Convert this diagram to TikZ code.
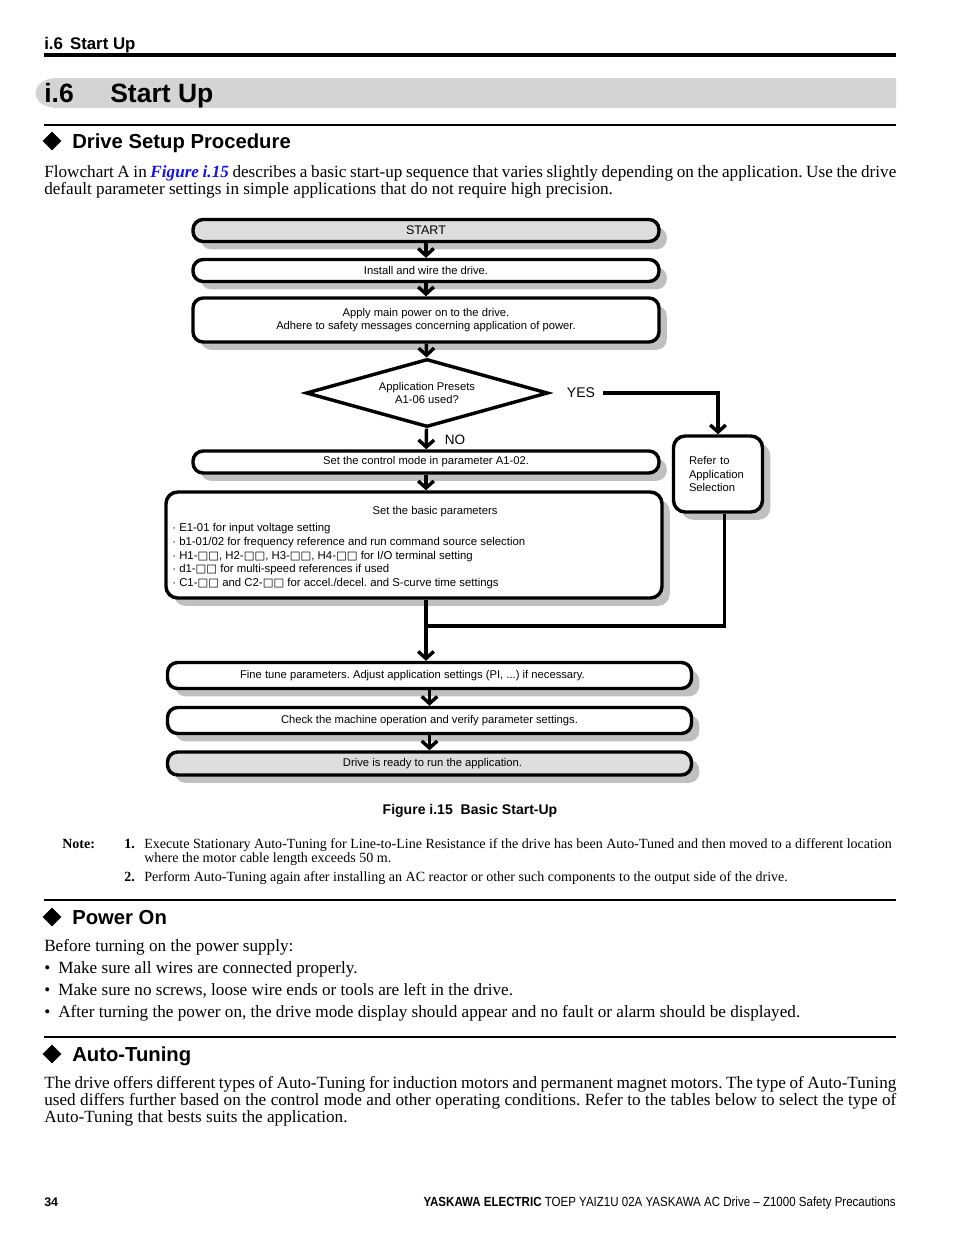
\documentclass[tikz,border=0pt]{standalone}
\usepackage{fontspec}
\setmainfont{Liberation Serif}
\setsansfont{Liberation Sans}
\newfontfamily\narrowsans{Liberation Sans}[FakeStretch=0.87]
\newfontfamily\symfont{DejaVu Sans}
\usetikzlibrary{shapes.geometric,arrows.meta,shadows,positioning}

\definecolor{bannergray}{RGB}{212,212,212}
\definecolor{boxgray}{RGB}{221,221,221}
\definecolor{shadowgray}{RGB}{192,192,192}
\definecolor{linkblue}{RGB}{20,20,235}

\newdimen\pxu
\pxu=0.6415pt
\newcommand{\sqbox}{{\symfont □}}

\tikzset{
  txt/.style={inner sep=0pt, anchor=base west},
  bodytext/.style={txt, font=\fontsize{11}{13}\selectfont},
  notetext/.style={txt, font=\fontsize{9}{11}\selectfont},
  headtext/.style={txt, font=\sffamily\bfseries\fontsize{13}{15}\selectfont},
  flowfont/.style={font=\sffamily\fontsize{7.2}{8.8}\selectfont},
  stepbox/.style={draw, line width=2.2pt, rounded corners=6.5pt, fill=white,
    flowfont, inner sep=0pt, minimum width=466*\pxu, minimum height=22*\pxu,
    drop shadow={shadow xshift=5pt, shadow yshift=-5pt, fill=shadowgray, opacity=1}},
  endbox/.style={stepbox, fill=boxgray},
  decision/.style={draw, shape=diamond, line width=2.2pt, fill=white, flowfont,
    aspect=3.5, inner sep=0pt, minimum width=242*\pxu, minimum height=68*\pxu, align=center},
  flowarrow/.style={line width=2.2pt, -{Straight Barb[length=4.5pt,width=10pt]}},
  flowline/.style={line width=2.2pt},
  bulletmark/.style={fill=black, shape=diamond, inner sep=0pt, minimum width=19*\pxu, minimum height=19*\pxu}
}

\begin{document}
\frenchspacing
\begin{tikzpicture}[x=0.6415pt, y=-0.6415pt]
  \useasboundingbox[fill=white] (0,0) rectangle (954,1235);

  % Page header
  \node[txt, font=\sffamily\bfseries\fontsize{10.8}{12}\selectfont] (pagehead) at (44,49) {i.6\hspace{4.5pt}Start Up};
  \draw[line width=2pt] (44,55) -- (896,55);

  % Section banner
  \fill[bannergray] (896,78) -- (58,78) .. controls (28,78) and (28,108) .. (58,108) -- (896,108) -- cycle;
  \node[txt, font=\sffamily\bfseries\fontsize{17}{20}\selectfont] (secnum) at (44,102) {i.6};
  \node[txt, font=\sffamily\bfseries\fontsize{17}{20}\selectfont] (sectitle) at (110,102) {Start Up};
  \draw[line width=0.7pt] (44,125) -- (896,125);

  % Drive Setup Procedure
  \node[bulletmark] (mark1) at (52,141) {};
  \node[headtext] (head1) at (72,148) {Drive Setup Procedure};
  \node[bodytext] (par1a) at (44,177) {\makebox[852\pxu][s]{Flowchart A in \textcolor{linkblue}{\textbf{\textit{Figure i.15}}} describes a basic start-up sequence that varies slightly depending on the application. Use the drive}};
  \node[bodytext] (par1b) at (44,194) {default parameter settings in simple applications that do not require high precision.};

  % Flowchart
  \node[endbox, font=\sffamily\fontsize{8}{9.6}\selectfont] (start) at (426,230.5) {START};
  \node[stepbox] (install) at (426,270.5) {Install and wire the drive.};
  \node[stepbox, minimum height=44*\pxu, align=center] (power) at (426,320)
    {Apply main power on to the drive.\\Adhere to safety messages concerning application of power.};
  \node[decision] (preset) at (427,393) {Application Presets\\A1-06 used?};
  \node[inner sep=0pt, font=\sffamily\fontsize{9}{10}\selectfont] (yes) at (581,393) {YES};
  \node[inner sep=0pt, font=\sffamily\fontsize{8.7}{10}\selectfont] (no) at (455,440) {NO};
  \node[stepbox] (mode) at (426,462) {Set the control mode in parameter A1-02.};
  \node[stepbox, minimum width=89*\pxu, minimum height=76*\pxu, rounded corners=7.5pt,
    text width=58*\pxu, align=left] (refer) at (718,474) {Refer to\\Application\\Selection};
  \node[stepbox, minimum width=496*\pxu, minimum height=106*\pxu, rounded corners=7.5pt] (basic) at (414,545) {};
  \node[flowfont, inner sep=0pt] (basictitle) at (435,512) {Set the basic parameters};
  \node[inner sep=0pt, anchor=north west, align=left, font=\sffamily\fontsize{7.3}{8.8}\selectfont] (basiclist) at (172,523)
    {· E1-01 for input voltage setting\\
     · b1-01/02 for frequency reference and run command source selection\\
     · H1-\sqbox\sqbox, H2-\sqbox\sqbox, H3-\sqbox\sqbox, H4-\sqbox\sqbox{} for I/O terminal setting\\
     · d1-\sqbox\sqbox{} for multi-speed references if used\\
     · C1-\sqbox\sqbox{} and C2-\sqbox\sqbox{} for accel./decel. and S-curve time settings};
  \coordinate (merge) at (426,626);
  \node[stepbox, minimum width=524*\pxu, minimum height=26*\pxu] (fine) at (429.5,675.5)
    {Fine tune parameters. Adjust application settings (PI, ...) if necessary.\hspace*{34\pxu}};
  \node[stepbox, minimum width=524*\pxu, minimum height=26*\pxu] (check) at (429.5,720.5)
    {Check the machine operation and verify parameter settings.};
  \node[endbox, minimum width=524*\pxu, minimum height=23*\pxu] (ready) at (429.5,763.5)
    {\hspace*{6\pxu}Drive is ready to run the application.};

  % Connectors
  \draw[flowarrow] (start) -- (install);
  \draw[flowarrow] (install) -- (power);
  \draw[flowarrow] (power) -- (preset);
  \draw[flowarrow] (preset) -- (mode);
  \draw[flowarrow] (yes.east) ++(8,0) -| (refer.north);
  \draw[flowarrow] (mode) -- (basic.north -| mode);
  \draw[flowline] ([xshift=4pt]refer.south) |- (merge);
  \draw[flowarrow] (basic.south -| mode) -- (fine.north -| mode);
  \draw[flowarrow] (fine) -- (check);
  \draw[flowarrow] (check) -- (ready);

  \node[txt, anchor=base, font=\sffamily\bfseries\fontsize{9}{11}\selectfont] (caption) at (470,814) {Figure i.15\hspace{5pt}Basic Start-Up};

  % Notes
  \node[notetext, font=\bfseries\fontsize{9}{11}\selectfont] (notehead) at (62,848) {Note:};
  \node[notetext, font=\bfseries\fontsize{9}{11}\selectfont] (note1num) at (124,848) {1.};
  \node[notetext] (note1a) at (144,848) {Execute Stationary Auto-Tuning for Line-to-Line Resistance if the drive has been Auto-Tuned and then moved to a different location};
  \node[notetext] (note1b) at (144,862) {where the motor cable length exceeds 50 m.};
  \node[notetext, font=\bfseries\fontsize{9}{11}\selectfont] (note2num) at (124,881) {2.};
  \node[notetext] (note2a) at (144,881) {Perform Auto-Tuning again after installing an AC reactor or other such components to the output side of the drive.};

  % Power On
  \draw[line width=1.6pt] (44,900) -- (896,900);
  \node[bulletmark] (mark2) at (52,917) {};
  \node[headtext] (head2) at (72,924) {Power On};
  \node[bodytext] (par2) at (44,951) {Before turning on the power supply:};
  \foreach \y/\t in {973/{Make sure all wires are connected properly.},
                     995/{Make sure no screws, loose wire ends or tools are left in the drive.},
                     1017/{After turning the power on, the drive mode display should appear and no fault or alarm should be displayed.}}
  {
    \node[bodytext] at (44,\y) {\textbullet};
    \node[bodytext] at (58,\y) {\t};
  }

  % Auto-Tuning
  \draw[line width=1.6pt] (44,1037) -- (896,1037);
  \node[bulletmark] (mark3) at (52,1054) {};
  \node[headtext] (head3) at (72,1061) {Auto-Tuning};
  \node[bodytext] (par3a) at (44,1088) {\makebox[852\pxu][s]{The drive offers different types of Auto-Tuning for induction motors and permanent magnet motors. The type of Auto-Tuning}};
  \node[bodytext] (par3b) at (44,1105) {\makebox[852\pxu][s]{used differs further based on the control mode and other operating conditions. Refer to the tables below to select the type of}};
  \node[bodytext] (par3c) at (44,1122) {Auto-Tuning that bests suits the application.};

  % Footer
  \node[txt, font=\sffamily\bfseries\fontsize{8}{10}\selectfont] (pageno) at (44,1206) {34};
  \node[txt, anchor=base east, font=\narrowsans\fontsize{8.5}{10}\selectfont] (footer) at (896,1206)
    {\textbf{YASKAWA ELECTRIC} TOEP YAIZ1U 02A YASKAWA AC Drive – Z1000 Safety Precautions};
\end{tikzpicture}
\end{document}
